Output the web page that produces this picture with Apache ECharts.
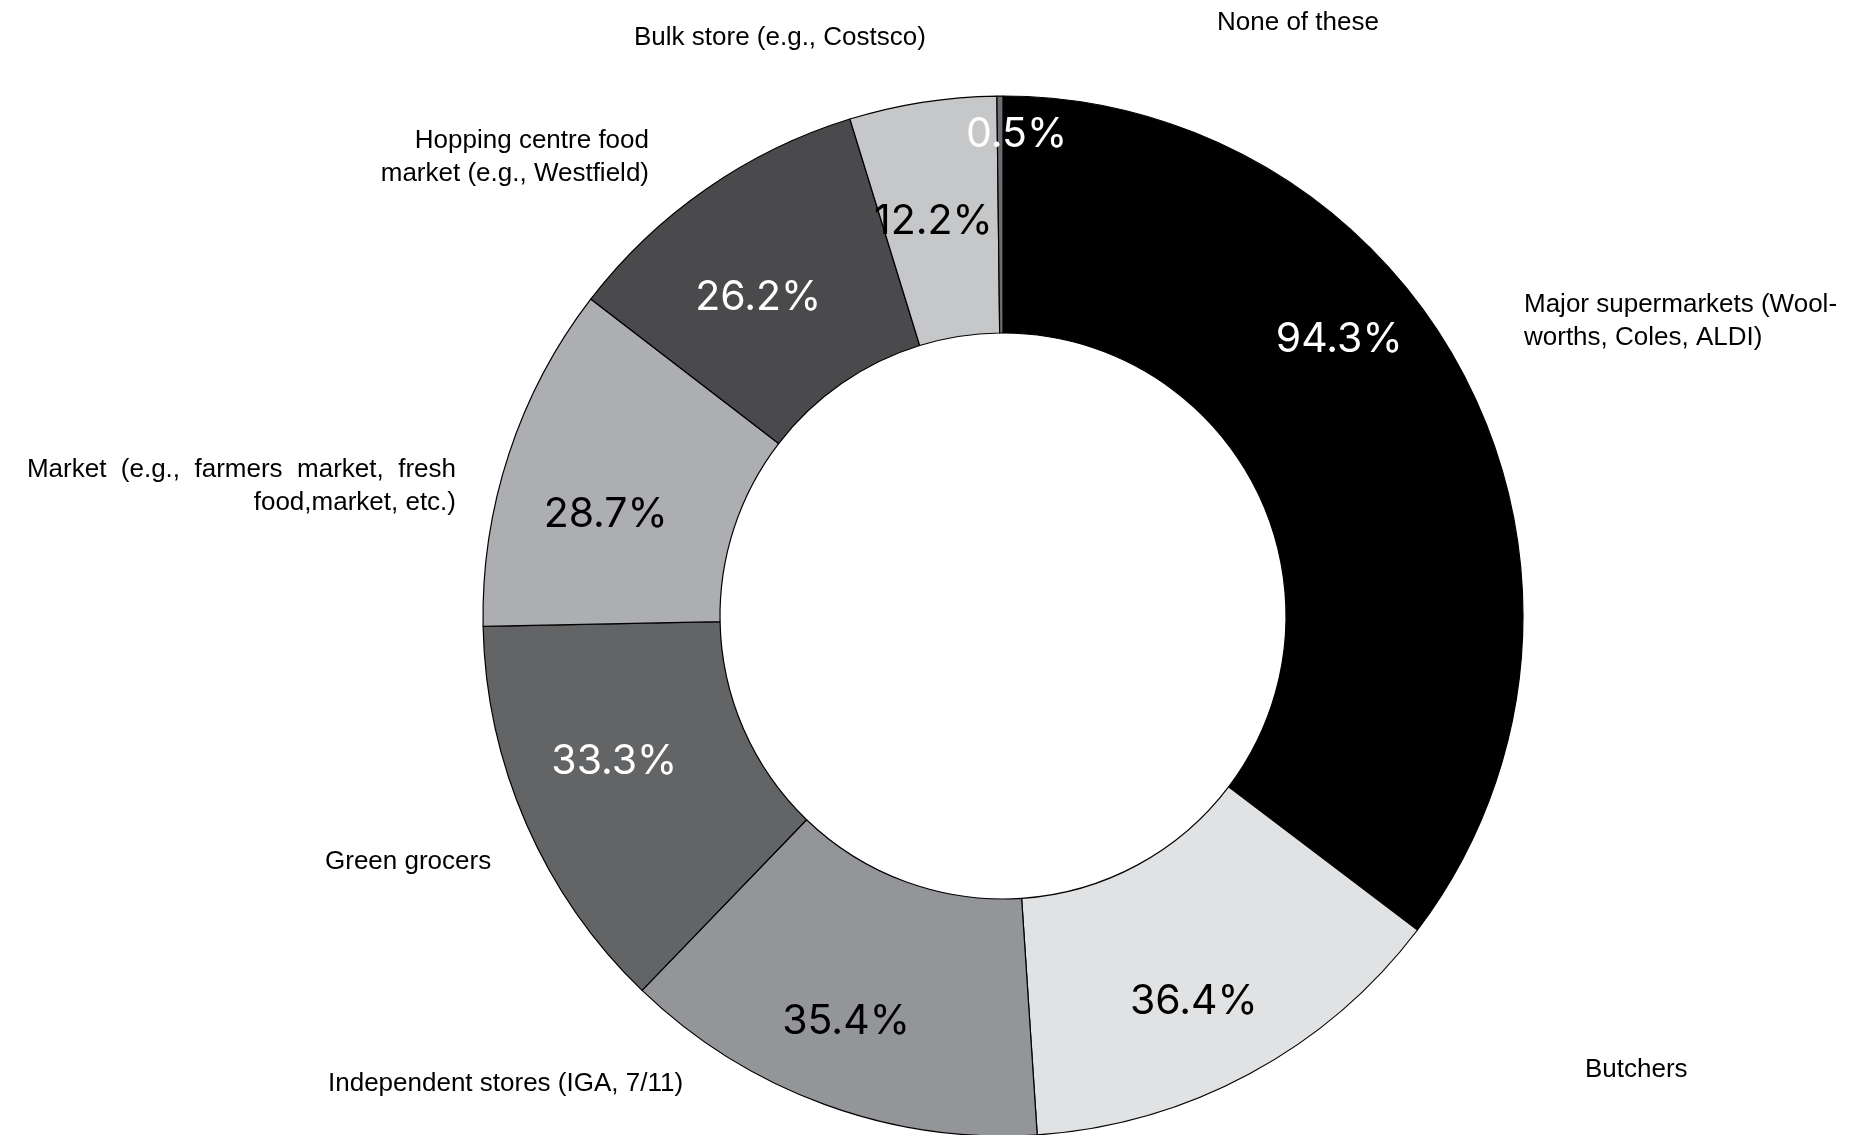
<!DOCTYPE html>
<html>
<head>
<meta charset="utf-8">
<script src="https://cdn.jsdelivr.net/npm/echarts@6/dist/echarts.min.js"></script>
<style>
  html, body { margin: 0; padding: 0; background: #ffffff; }
  #chart { width: 1854px; height: 1135px; }
</style>
</head>
<body>
<div id="chart"></div>
<script>
// ---- data ----
const categories = [
  'Major supermarkets (Wool-\nworths, Coles, ALDI)',
  'Butchers',
  'Independent stores (IGA, 7/11)',
  'Green grocers',
  'Market  (e.g.,  farmers  market,  fresh\nfood,market, etc.)',
  'Hopping centre food\nmarket (e.g., Westfield)',
  'Bulk store (e.g., Costsco)',
  'None of these'
];
const values = [94.3, 36.4, 35.4, 33.3, 28.7, 26.2, 12.2, 0.5];

// ---- styles ----
const sliceColors = ['#000000', '#e1e2e3', '#939598', '#636466', '#adaeb1', '#4a4a4c', '#c6c7c9', '#6d6e71'];
const pctColors = ['#ffffff', '#000000', '#000000', '#ffffff', '#000000', '#ffffff', '#000000', '#ffffff'];
const pctShift = [[-26, -96], [-1, 30], [-18, 26], [-18, -16], [-13, 25], [-14, 14], [-7, 5], [16, -77]];
const nameAnchor = [
  [1524, 321, 'left'],
  [1585, 1070, 'left'],
  [328, 1084, 'left'],
  [325, 862, 'left'],
  [456, 486.5, 'right'],
  [649, 157, 'right'],
  [634, 38, 'left'],
  [1217, 23, 'left']
];

const CENTER = [1003, 616];
const RADIUS = [283, 520];

const chart = echarts.init(document.getElementById('chart'), null, { renderer: 'canvas' });

const pctData = categories.map((c, i) => ({
  name: c,
  value: values[i],
  itemStyle: { color: sliceColors[i] },
  label: { color: pctColors[i], offset: pctShift[i] }
}));

const nameData = categories.map((c, i) => ({ name: c, value: values[i] }));

chart.setOption({
  backgroundColor: '#ffffff',
  animation: false,
  series: [
    {
      type: 'pie',
      center: CENTER,
      radius: RADIUS,
      startAngle: 90,
      clockwise: true,
      avoidLabelOverlap: false,
      silent: true,
      itemStyle: { borderColor: '#000000', borderWidth: 1.2 },
      label: {
        show: true,
        position: 'inside',
        formatter: p => p.value.toFixed(1) + '%',
        fontFamily: 'Inter, "Noto Sans", sans-serif',
        fontSize: 41,
        fontWeight: 400
      },
      labelLine: { show: false },
      emphasis: { disabled: true },
      data: pctData
    },
    {
      type: 'pie',
      center: CENTER,
      radius: RADIUS,
      startAngle: 90,
      clockwise: true,
      avoidLabelOverlap: false,
      silent: true,
      z: 1,
      itemStyle: { color: 'rgba(0,0,0,0)', borderWidth: 0 },
      label: {
        show: true,
        position: 'outside',
        formatter: p => p.name,
        fontFamily: '"Liberation Sans", Arial, sans-serif',
        fontSize: 26,
        lineHeight: 33,
        color: '#000000'
      },
      labelLine: { show: false },
      labelLayout: function (params) {
        const a = nameAnchor[params.dataIndex];
        return { x: a[0], y: a[1], align: a[2], verticalAlign: 'middle' };
      },
      emphasis: { disabled: true },
      data: nameData
    }
  ]
});
</script>
</body>
</html>
